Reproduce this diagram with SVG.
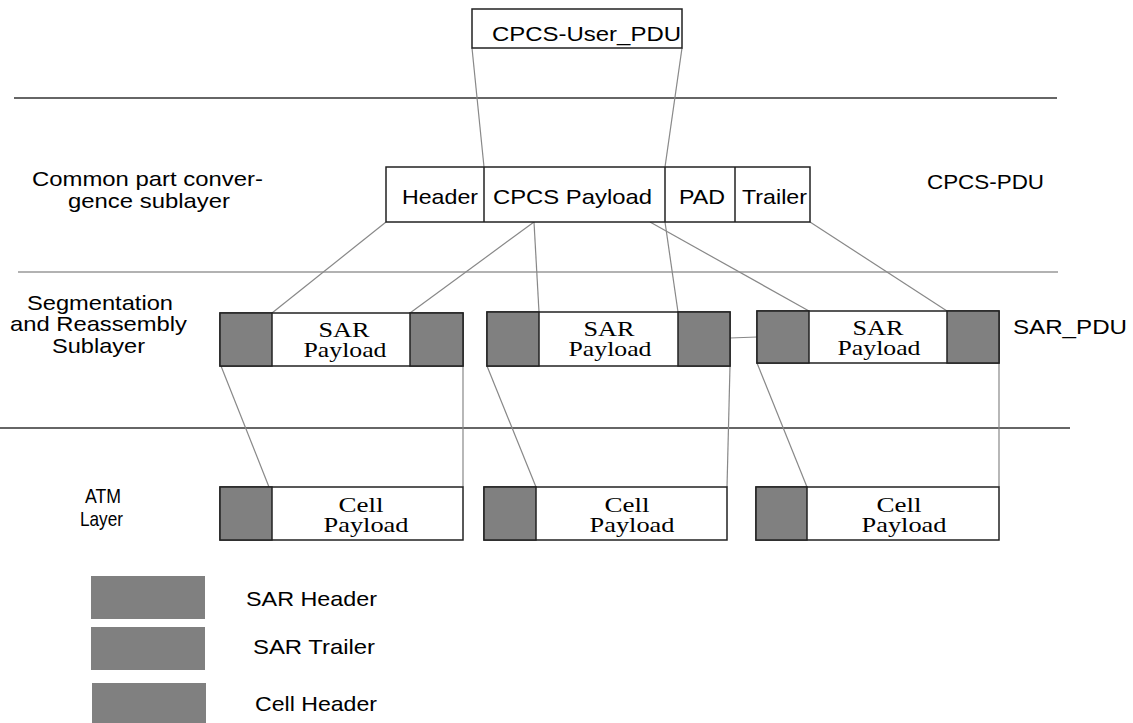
<svg xmlns="http://www.w3.org/2000/svg" width="1133" height="723" viewBox="0 0 1133 723">
<style>
.sans{font-family:"Liberation Sans",Arial,sans-serif;font-size:21px;fill:#000}
.serif{font-family:"Liberation Serif","Times New Roman",serif;font-size:22px;fill:#000}
.box{fill:#fff;stroke:#222;stroke-width:1.5}
.dark{fill:#808080;stroke:#222;stroke-width:1.5}
.leg{fill:#808080;stroke:none}
.conn{stroke:#888;stroke-width:1.2;fill:none}
.rule{stroke:#333;stroke-width:1.5}
.rule2{stroke:#999;stroke-width:1.3}
</style>
<rect width="1133" height="723" fill="#fff"/>
<g id="rules">
<line class="rule" x1="14" y1="98" x2="1057" y2="98"/>
<line class="rule2" x1="18" y1="272" x2="1058" y2="272"/>
<line class="rule" x1="0" y1="428" x2="1070" y2="428"/>
</g>
<g id="connectors">
<line class="conn" x1="472" y1="48" x2="484" y2="167"/>
<line class="conn" x1="682" y1="48" x2="665" y2="167"/>
<line class="conn" x1="386" y1="222" x2="272" y2="313"/>
<line class="conn" x1="534" y1="222" x2="410" y2="313"/>
<line class="conn" x1="534" y1="222" x2="539" y2="312"/>
<line class="conn" x1="665" y1="222" x2="678" y2="312"/>
<line class="conn" x1="650" y1="222" x2="809" y2="311"/>
<line class="conn" x1="810" y1="222" x2="947" y2="311"/>
<line class="conn" x1="730" y1="338" x2="757" y2="337"/>
<line class="conn" x1="221" y1="366" x2="269" y2="487"/>
<line class="conn" x1="463" y1="366" x2="463" y2="487"/>
<line class="conn" x1="487" y1="366" x2="536" y2="487"/>
<line class="conn" x1="730" y1="366" x2="727" y2="487"/>
<line class="conn" x1="757" y1="363" x2="807" y2="487"/>
<line class="conn" x1="999" y1="363" x2="999" y2="487"/>
</g>
<g id="cpcs-user-pdu">
<rect class="box" x="472" y="9" width="210" height="39"/>
<text class="sans" x="492" y="41" textLength="189" lengthAdjust="spacingAndGlyphs">CPCS-User_PDU</text>
</g>
<g id="cpcs-pdu">
<rect class="box" x="386" y="167" width="424" height="55"/>
<line x1="484" y1="167" x2="484" y2="222" stroke="#222" stroke-width="1.5"/>
<line x1="665" y1="167" x2="665" y2="222" stroke="#222" stroke-width="1.5"/>
<line x1="735" y1="167" x2="735" y2="222" stroke="#222" stroke-width="1.5"/>
<text class="sans" x="402" y="204" textLength="76" lengthAdjust="spacingAndGlyphs">Header</text>
<text class="sans" x="493" y="204" textLength="159" lengthAdjust="spacingAndGlyphs">CPCS Payload</text>
<text class="sans" x="679" y="204" textLength="46" lengthAdjust="spacingAndGlyphs">PAD</text>
<text class="sans" x="742" y="204" textLength="65" lengthAdjust="spacingAndGlyphs">Trailer</text>
</g>
<g id="sar1">
<rect class="box" x="220" y="313" width="243" height="53"/>
<rect class="dark" x="220" y="313" width="52" height="53"/>
<rect class="dark" x="410" y="313" width="53" height="53"/>
<text class="serif" x="344" y="337" text-anchor="middle" textLength="51" lengthAdjust="spacingAndGlyphs">SAR</text>
<text class="serif" x="345" y="357" text-anchor="middle" textLength="83" lengthAdjust="spacingAndGlyphs">Payload</text>
</g>
<g id="sar2">
<rect class="box" x="487" y="312" width="243" height="54"/>
<rect class="dark" x="487" y="312" width="52" height="54"/>
<rect class="dark" x="678" y="312" width="52" height="54"/>
<text class="serif" x="609" y="336" text-anchor="middle" textLength="51" lengthAdjust="spacingAndGlyphs">SAR</text>
<text class="serif" x="610" y="356" text-anchor="middle" textLength="83" lengthAdjust="spacingAndGlyphs">Payload</text>
</g>
<g id="sar3">
<rect class="box" x="757" y="311" width="242" height="52"/>
<rect class="dark" x="757" y="311" width="52" height="52"/>
<rect class="dark" x="947" y="311" width="52" height="52"/>
<text class="serif" x="878" y="335" text-anchor="middle" textLength="51" lengthAdjust="spacingAndGlyphs">SAR</text>
<text class="serif" x="879" y="355" text-anchor="middle" textLength="83" lengthAdjust="spacingAndGlyphs">Payload</text>
</g>
<g id="cell1">
<rect class="box" x="220" y="487" width="243" height="53"/>
<rect class="dark" x="220" y="487" width="52" height="53"/>
<text class="serif" x="361" y="512" text-anchor="middle" textLength="45" lengthAdjust="spacingAndGlyphs">Cell</text>
<text class="serif" x="366" y="532" text-anchor="middle" textLength="85" lengthAdjust="spacingAndGlyphs">Payload</text>
</g>
<g id="cell2">
<rect class="box" x="484" y="487" width="243" height="53"/>
<rect class="dark" x="484" y="487" width="52" height="53"/>
<text class="serif" x="627" y="512" text-anchor="middle" textLength="45" lengthAdjust="spacingAndGlyphs">Cell</text>
<text class="serif" x="632" y="532" text-anchor="middle" textLength="85" lengthAdjust="spacingAndGlyphs">Payload</text>
</g>
<g id="cell3">
<rect class="box" x="756" y="487" width="243" height="53"/>
<rect class="dark" x="756" y="487" width="51" height="53"/>
<text class="serif" x="899" y="512" text-anchor="middle" textLength="45" lengthAdjust="spacingAndGlyphs">Cell</text>
<text class="serif" x="904" y="532" text-anchor="middle" textLength="85" lengthAdjust="spacingAndGlyphs">Payload</text>
</g>
<g id="labels">
<text class="sans" x="32" y="186" textLength="231" lengthAdjust="spacingAndGlyphs">Common part conver-</text>
<text class="sans" x="68" y="208" textLength="162" lengthAdjust="spacingAndGlyphs">gence sublayer</text>
<text class="sans" x="927" y="189" textLength="117" lengthAdjust="spacingAndGlyphs">CPCS-PDU</text>
<text class="sans" x="27" y="310" textLength="146" lengthAdjust="spacingAndGlyphs">Segmentation</text>
<text class="sans" x="10" y="331" textLength="177" lengthAdjust="spacingAndGlyphs">and Reassembly</text>
<text class="sans" x="52" y="353" textLength="93" lengthAdjust="spacingAndGlyphs">Sublayer</text>
<text class="sans" x="1013" y="334" textLength="114" lengthAdjust="spacingAndGlyphs">SAR_PDU</text>
<text class="sans" x="85" y="503" textLength="36" lengthAdjust="spacingAndGlyphs">ATM</text>
<text class="sans" x="80" y="526" textLength="43" lengthAdjust="spacingAndGlyphs">Layer</text>
</g>
<g id="legend">
<rect class="leg" x="91" y="576" width="114" height="43"/>
<rect class="leg" x="91" y="627" width="114" height="43"/>
<rect class="leg" x="92" y="683" width="114" height="40"/>
<text class="sans" x="246" y="606" textLength="131" lengthAdjust="spacingAndGlyphs">SAR Header</text>
<text class="sans" x="253" y="654" textLength="122" lengthAdjust="spacingAndGlyphs">SAR Trailer</text>
<text class="sans" x="255" y="711" textLength="122" lengthAdjust="spacingAndGlyphs">Cell Header</text>
</g>
</svg>
